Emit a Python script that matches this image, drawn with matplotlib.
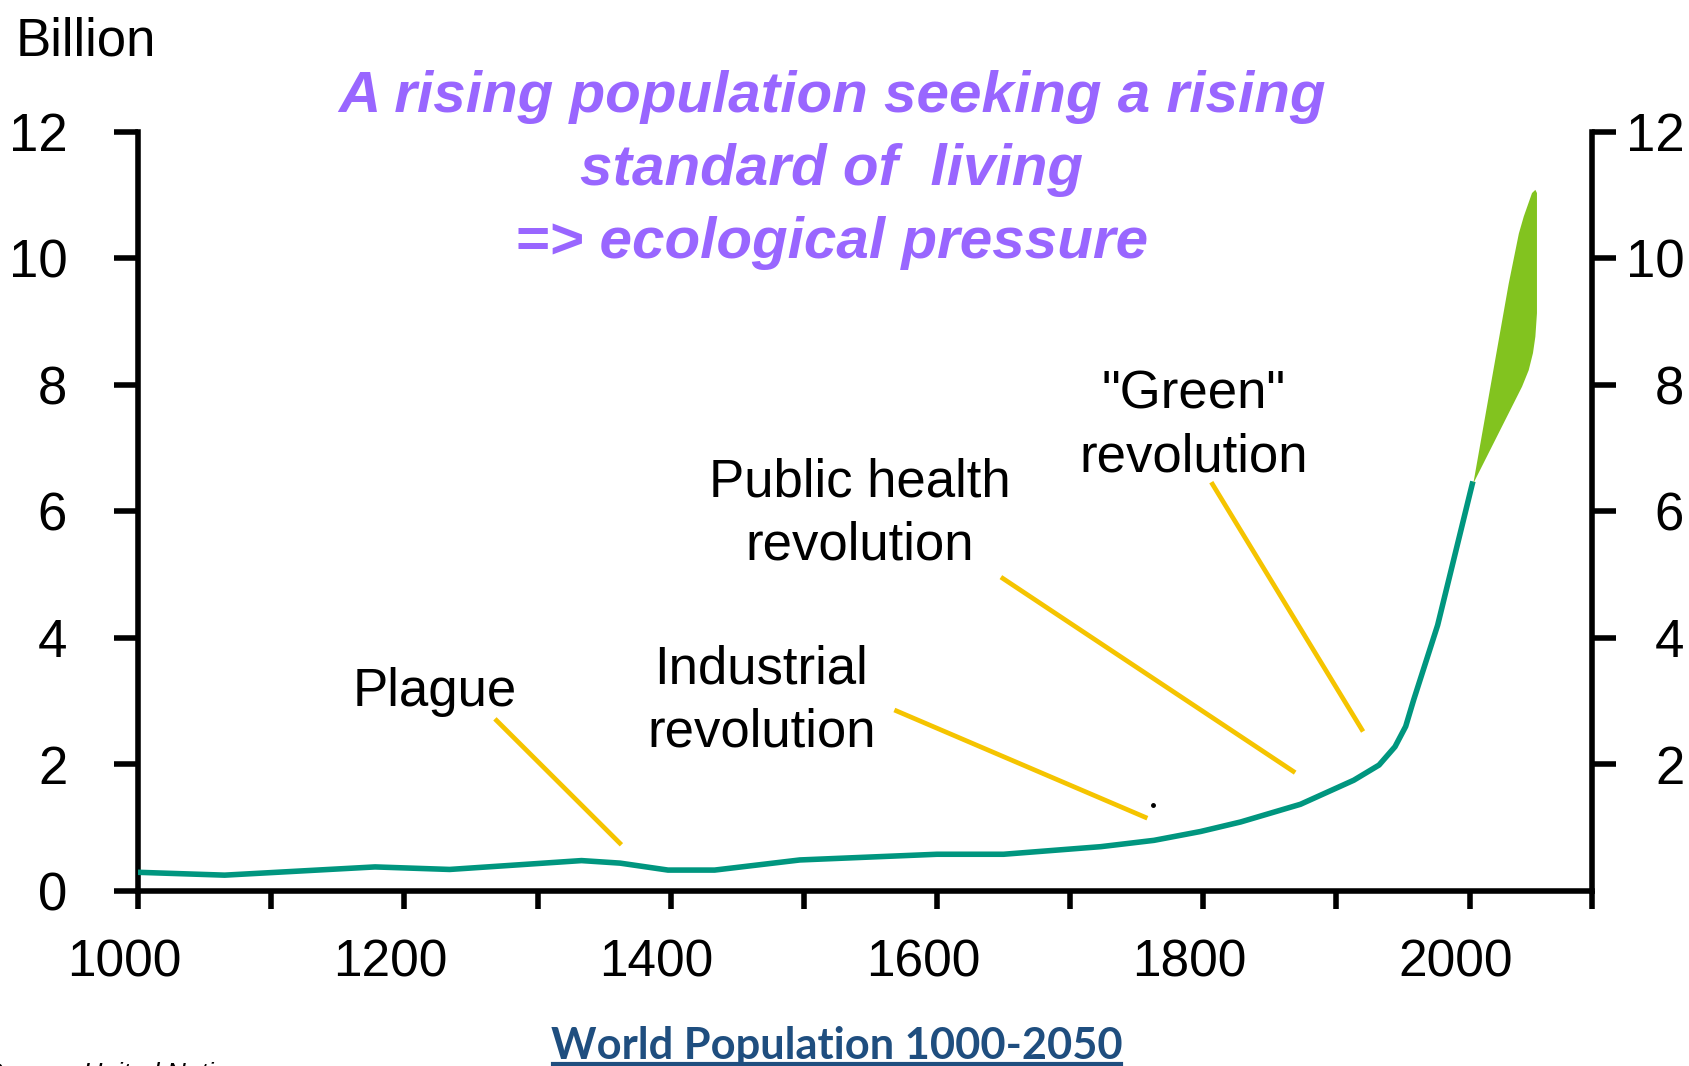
import matplotlib
matplotlib.use("Agg")
import matplotlib.pyplot as plt
import matplotlib.transforms as mtransforms
from matplotlib.lines import Line2D

plt.rcParams["font.family"] = ["Liberation Sans", "DejaVu Sans"]

# ---- data -----------------------------------------------------------------
years = [1000, 1065, 1178, 1234, 1333, 1362, 1398, 1433, 1497, 1600, 1650,
         1723, 1763, 1798, 1828, 1873, 1913, 1932, 1944, 1952, 1958, 1976, 2002]
population = [0.295, 0.25, 0.38, 0.34, 0.48, 0.44, 0.33, 0.33, 0.49, 0.58, 0.58,
              0.70, 0.80, 0.94, 1.09, 1.37, 1.75, 1.99, 2.28, 2.60, 3.02, 4.20, 6.43]

# projection band 2002-2050 (outline of the green wedge)
proj_years = [2002.8, 2029.4, 2037.0, 2040.7, 2046.9, 2049.4, 2050.6,
              2050.6, 2049.4, 2047.6, 2044.4, 2039.4]
proj_values = [6.44, 9.60, 10.39, 10.66, 11.03, 11.08, 11.03,
               9.13, 8.76, 8.50, 8.23, 7.97]

# annotation leader lines: (label, label year, label value, line start, line end)
notes = [
    ("Plague", 1223, 3.14, (1268, 2.72), (1363, 0.73)),
    ("Industrial\nrevolution", 1468, 3.00, (1568, 2.86), (1758, 1.15)),
    ("Public health\nrevolution", 1542, 5.96, (1648, 4.96), (1869, 1.87)),
    ('"Green"\nrevolution', 1793, 7.35, (1806, 6.46), (1920, 2.52)),
]

x_ticks = list(range(1000, 2001, 100))
x_labels = ["1000", "", "1200", "", "1400", "", "1600", "", "1800", "", "2000"]
y_ticks_left = [0, 2, 4, 6, 8, 10, 12]
y_ticks_right = [2, 4, 6, 8, 10, 12]

TEAL = "#00967F"
YELLOW = "#F5C400"
LEAF = "#82C31F"
PURPLE = "#9966FF"
NAVY = "#1F4E7F"

fig = plt.figure(figsize=(16.9, 10.66), dpi=100)
ax = fig.add_axes([0.0817, 0.1642, 0.9423 - 0.0817, 0.8765 - 0.1642])

ax.plot(years, population, color=TEAL, lw=4, solid_joinstyle="round", zorder=3)
ax.fill(proj_years, proj_values, color=LEAF, lw=0, zorder=3)

for label, lx, ly, p0, p1 in notes:
    ax.plot([p0[0], p1[0]], [p0[1], p1[1]], color=YELLOW, lw=3.4,
            solid_capstyle="butt", zorder=2)
    ax.text(lx, ly, label, fontsize=38, ha="center", va="center",
            linespacing=1.34)
ax.plot([1762], [1.36], "o", color="black", ms=2.5)

ax.set_xlim(1000, 2092.3)
ax.set_ylim(0, 12)
ax.set_xticks(x_ticks + [2092.3])
ax.set_xticklabels(x_labels + [""])
ax.set_yticks(y_ticks_left)
ax.set_yticklabels([str(v) for v in y_ticks_left])
ax.tick_params(axis="x", direction="out", length=13, width=4, pad=21,
               labelsize=37)
ax.tick_params(axis="y", direction="out", length=17, width=4, pad=34,
               labelsize=38)
offset = mtransforms.ScaledTranslation(-0.14, 0, fig.dpi_scale_trans)
for t in ax.get_xticklabels():
    t.set_transform(t.get_transform() + offset)
for side in ("top", "right"):
    ax.spines[side].set_visible(False)
for side in ("left", "bottom"):
    ax.spines[side].set_linewidth(4)

ax2 = ax.twinx()
ax2.set_ylim(0, 12)
ax2.set_yticks(y_ticks_right)
ax2.set_yticklabels([str(v) for v in y_ticks_right])
ax2.tick_params(axis="y", direction="out", length=17, width=4, pad=49,
                labelsize=38)
for t in ax2.get_yticklabels():
    t.set_horizontalalignment("right")
for side in ("top", "left", "bottom"):
    ax2.spines[side].set_visible(False)
ax2.spines["right"].set_linewidth(4)

fig.text(16 / 1690, 1 - 41 / 1066, "Billion", fontsize=38, ha="left",
         va="center")
fig.text(832 / 1690, 1 - 170 / 1066,
         "A rising population seeking a rising\nstandard of  living\n=> ecological pressure",
         fontsize=42, fontweight="bold", fontstyle="italic", color=PURPLE,
         ha="center", va="center", linespacing=1.45)

fig.text(837 / 1690, 7 / 1066, "World Population 1000-2050",
         family=["Lato", "DejaVu Sans"], fontsize=31.2, fontweight="bold",
         color=NAVY, ha="center", va="baseline")
fig.add_artist(Line2D([553 / 1690, 1121 / 1690], [2.5 / 1066, 2.5 / 1066],
                      color=NAVY, lw=3, transform=fig.transFigure))
fig.text(-15 / 1690, -15 / 1066, "Source: United Nations", fontsize=19,
         fontstyle="italic", ha="left", va="baseline")

fig.savefig("out.png", dpi=100)
